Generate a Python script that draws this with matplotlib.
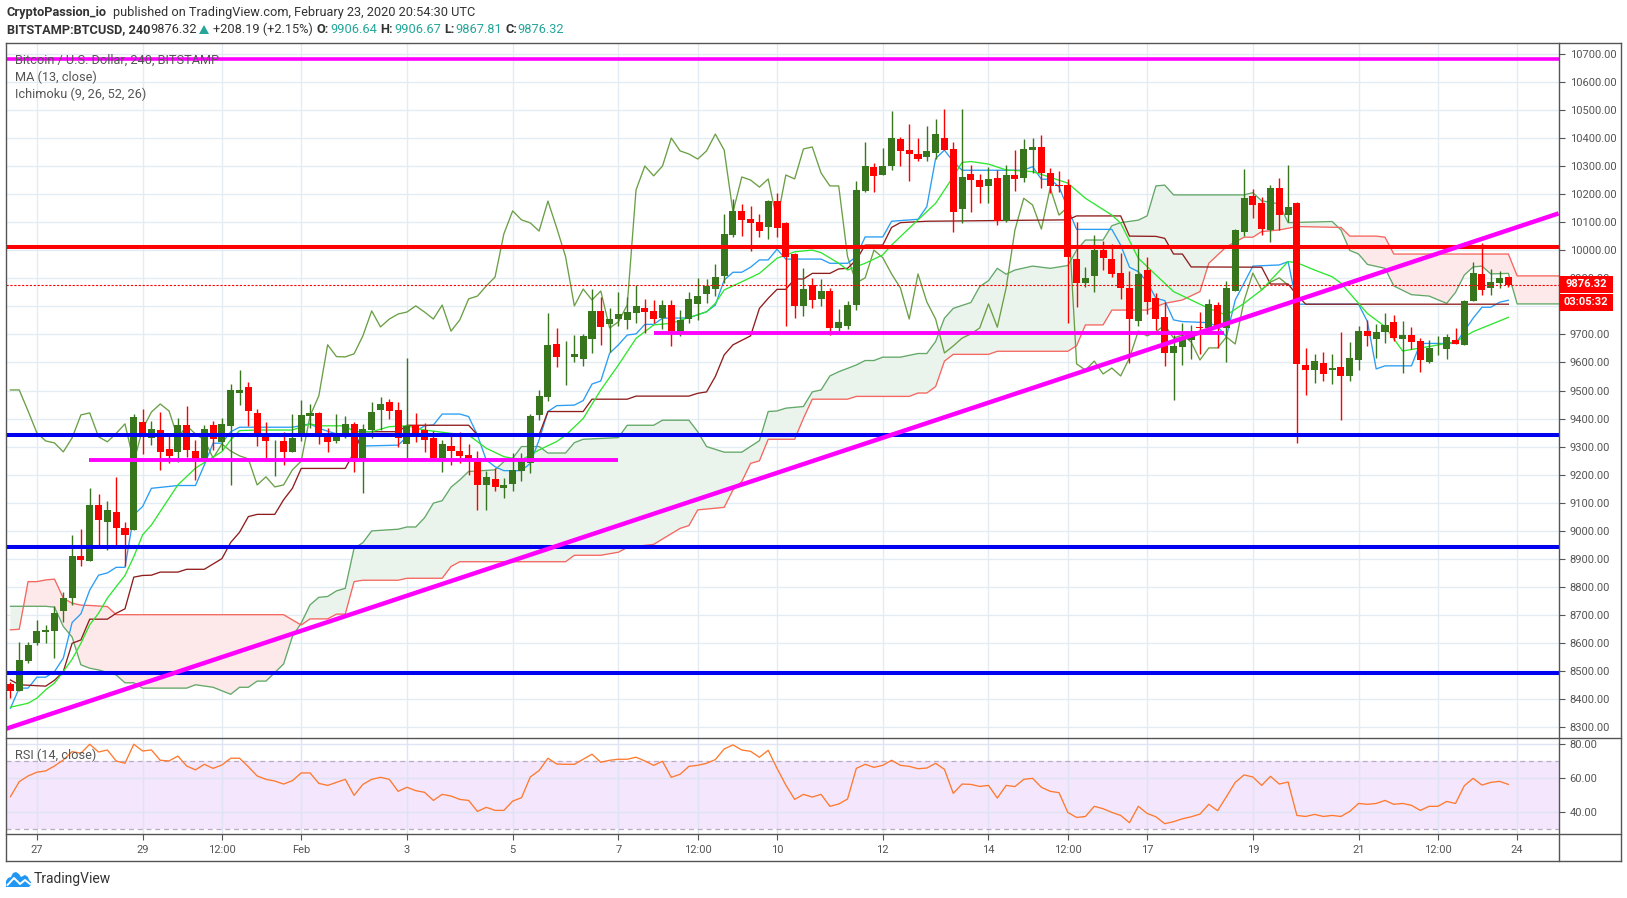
import numpy as np
import matplotlib
matplotlib.use('Agg')
import matplotlib.pyplot as plt
from matplotlib.lines import Line2D
from matplotlib.patches import Polygon, Rectangle

plt.rcParams['font.family'] = ['Roboto', 'DejaVu Sans']

W, H = 1627, 898

# candles, first bar is Jan 26 12:00, bar 0 is Jan 27 00:00
first_bar = -3
opens = [8453,8426,8534,8598,8638,8642,8714,8760,8910,8892,9092,9032,9067,9010,9003,9388,9331,9359,9292,9281,
         9377,9284,9248,9377,9317,9374,9491,9513,9420,9345,9311,9320,9281,9338,9409,9420,9338,9320,9345,9381,
         9248,9359,9431,9459,9431,9309,9377,9359,9331,9259,9302,9284,9270,9259,9163,9184,9152,9167,9213,9242,
         9413,9477,9666,9618,9620,9613,9684,9784,9737,9755,9752,9777,9795,9784,9759,9805,9709,9755,9809,9844,
         9862,9909,10055,10141,10112,10101,10084,10176,10098,9987,9802,9877,9827,9855,9723,9730,9805,10212,10298,10269,
         10301,10398,10358,10344,10333,10347,10401,10362,10148,10273,10251,10230,10258,10106,10269,10258,10358,10369,10276,10233,
         10233,9969,9884,9909,10001,9969,9918,9866,9748,9930,9830,9762,9634,9655,9680,9727,9723,9805,9723,9855,
         10066,10194,10169,10073,10223,10126,10169,9591,9573,9598,9573,9584,9552,9609,9712,9684,9709,9745,9684,9698,
         9677,9602,9650,9648,9680,9663,9820,9916,9866,9884,9906.64]
highs = [8461,8602,8602,8681,8663,8731,8780,8985,9006,9152,9131,9106,9192,9031,9416,9434,9391,9423,9347,9402,
         9445,9324,9376,9391,9402,9523,9573,9531,9434,9388,9324,9352,9416,9466,9452,9423,9366,9416,9409,9388,
         9381,9459,9477,9470,9459,9616,9420,9383,9356,9324,9345,9352,9309,9284,9213,9224,9188,9277,9277,9416,
         9502,9775,9723,9675,9698,9702,9862,9834,9794,9852,9835,9877,9827,9823,9823,9823,9787,9852,9902,9898,
         9952,10130,10183,10166,10158,10130,10180,10205,10101,9990,9937,9902,9898,9866,9791,9820,10248,10387,10312,10365,
         10497,10405,10451,10401,10444,10469,10504,10387,10504,10305,10273,10298,10287,10305,10358,10397,10401,10412,10294,10283,
         10255,10101,9941,10055,10034,10023,9990,9926,10019,9975,9847,9817,9698,9740,9734,9780,9827,9816,9891,10076,
         10290,10219,10190,10233,10258,10305,10173,9652,9630,9637,9630,9709,9673,9730,9752,9737,9777,9770,9748,9727,
         9687,9680,9695,9702,9723,9823,9959,10026,9934,9927,9906.67]
lows = [8402,8426,8529,8592,8600,8547,8675,8733,8872,8892,8937,8931,8937,8872,9003,9274,9306,9217,9240,9245,
        9263,9181,9248,9288,9286,9163,9449,9374,9302,9249,9195,9234,9281,9320,9366,9309,9281,9313,9331,9210,
        9136,9331,9359,9399,9300,9249,9317,9281,9256,9210,9234,9242,9199,9074,9074,9142,9117,9142,9177,9206,
        9395,9463,9585,9521,9600,9588,9634,9663,9638,9730,9720,9741,9705,9741,9720,9659,9695,9740,9752,9811,
        9837,9884,10048,10051,9998,10048,10041,10048,9730,9759,9766,9795,9802,9698,9711,9718,9787,10208,10208,10269,
        10287,10301,10248,10319,10319,10326,10358,10066,10098,10137,10169,10169,10091,10101,10212,10244,10275,10223,10204,10208,
        9740,9798,9871,9852,9930,9906,9827,9597,9730,9773,9716,9588,9466,9591,9613,9630,9716,9651,9602,9855,
        10051,10116,10055,10030,10073,10102,9312,9484,9527,9534,9523,9395,9534,9573,9659,9616,9670,9677,9563,9648,
        9566,9598,9627,9613,9666,9663,9820,9841,9841,9866,9867.81]
closes = [8426,8539,8592,8642,8645,8706,8760,8910,8895,9092,9038,9074,9010,8985,9406,9341,9363,9281,9267,9377,
          9288,9252,9363,9327,9381,9502,9502,9427,9349,9320,9313,9281,9331,9413,9420,9335,9317,9347,9381,9245,
          9363,9423,9452,9427,9331,9374,9345,9324,9259,9309,9284,9267,9256,9163,9192,9156,9163,9217,9248,9409,
          9481,9663,9621,9620,9631,9695,9784,9727,9755,9773,9780,9802,9780,9755,9805,9712,9752,9827,9837,9873,
          9905,10059,10141,10109,10098,10069,10176,10080,9978,9802,9862,9823,9855,9723,9745,9805,10216,10301,10266,10301,
          10401,10355,10344,10326,10355,10415,10358,10137,10262,10251,10226,10255,10106,10269,10255,10362,10369,10276,10230,10230,
          9978,9884,9902,10001,9974,9916,9866,9755,9916,9816,9755,9634,9659,9687,9702,9723,9809,9726,9866,10073,
          10186,10162,10076,10223,10126,10155,9595,9573,9605,9559,9580,9552,9616,9712,9695,9709,9734,9687,9698,9673,
          9609,9652,9652,9691,9666,9820,9919,9859,9887,9902,9876.32]

# ichimoku and MA lines, read at their corners: bar number and price
span_b_bars = [-3,-2,-1,0,1,2,3,4,5,6,7,8,9,28,30,31,33,34,35,36,37,41,42,46,47,48,60,61,64,66,67,70,71,73,74,75,78,79,80,81,82,83,86,87,88,92,93,99,100,101,102,103,104,108,109,117,118,119,121,122,126,128,130,132,133,135,137,138,139,141,143,148,149,152,153,154,167,168,173]
span_b_vals = [8646,8648,8818,8818,8824,8827,8759,8741,8734,8733,8731,8729,8700,8700,8663,8685,8685,8702,8702,8818,8823,8823,8830,8830,8872,8889,8889,8912,8912,8923,8940,8951,8970,9008,9018,9074,9083,9145,9175,9240,9249,9326,9326,9401,9469,9469,9479,9479,9491,9491,9514,9605,9629,9629,9640,9640,9660,9734,9734,9787,9787,9811,9823,9853,9954,10013,10047,10047,10067,10073,10085,10082,10051,10051,10047,9987,9987,9909,9909]
span_a_bars = [-3,1,2,3,4,5,6,7,9,10,11,12,17,18,20,22,23,24,25,26,28,29,30,31,32,33,34,35,36,37,38,41,42,43,44,45,46,47,48,49,52,53,54,55,57,58,60,61,62,66,67,70,71,74,75,76,78,80,82,83,84,85,87,88,89,90,91,93,94,95,96,98,100,101,102,103,104,106,107,108,109,110,111,113,115,117,118,119,121,122,123,125,126,127,128,129,137,138,139,141,142,147,148,149,150,151,153,154,156,158,160,161,162,163,164,165,167,168,173]
span_a_vals = [8730,8730,8727,8658,8620,8521,8509,8503,8485,8457,8457,8438,8438,8450,8441,8416,8441,8441,8463,8463,8524,8622,8670,8735,8762,8765,8785,8794,8937,8957,8999,9005,9013,9013,9046,9098,9107,9155,9181,9211,9217,9246,9258,9300,9300,9277,9277,9314,9326,9332,9376,9376,9394,9394,9353,9300,9280,9280,9321,9425,9427,9437,9443,9495,9502,9552,9567,9591,9607,9607,9619,9619,9632,9632,9675,9758,9793,9814,9871,9892,9936,9915,9930,9944,9936,9946,10001,10037,10037,10088,10099,10108,10123,10230,10233,10198,10198,10206,10177,10166,10099,10103,10073,10000,9987,9950,9936,9873,9842,9837,9811,9850,9912,9941,9944,9916,9918,9809,9809]
kijun_bars = [-3,-2,1,2,3,4,5,6,8,9,10,11,12,13,14,16,17,19,21,22,23,24,25,27,28,29,30,35,36,37,41,42,49,50,57,58,62,63,67,68,74,75,76,77,78,79,81,82,83,84,85,86,87,88,90,91,92,93,94,96,97,98,101,117,118,123,124,127,128,129,130,131,139,140,142,143,144,167]
kijun_vals = [8467,8450,8445,8466,8497,8598,8610,8684,8684,8705,8721,8834,8840,8841,8852,8852,8862,8862,8900,8958,8994,9050,9058,9058,9110,9151,9222,9222,9280,9353,9353,9376,9376,9342,9342,9425,9425,9469,9469,9480,9480,9490,9495,9550,9627,9663,9695,9793,9829,9861,9861,9898,9898,9918,9918,9934,9936,9966,10019,10019,10082,10099,10104,10109,10123,10123,10051,10050,10043,9987,9987,9941,9940,9880,9880,9841,9808,9808]
tenkan_bars = [-3,-2,-1,0,1,2,3,4,5,6,7,8,9,10,11,12,13,16,18,19,20,21,22,23,29,31,32,35,36,37,41,42,44,45,46,48,49,50,51,52,53,55,56,57,58,59,61,62,63,64,65,66,67,68,69,70,71,74,76,77,78,79,80,81,82,83,84,85,89,90,92,93,94,96,97,100,101,102,103,104,105,112,113,114,115,116,117,118,122,123,124,125,126,127,128,129,130,133,134,135,136,137,138,141,142,143,150,151,152,153,156,157,158,161,162,163,164,165,166,167]
tenkan_vals = [8366,8438,8438,8477,8477,8497,8545,8672,8703,8788,8841,8849,8869,8869,9056,9086,9151,9161,9161,9234,9312,9312,9353,9369,9369,9381,9365,9335,9341,9302,9305,9335,9374,9377,9416,9416,9407,9341,9252,9228,9214,9214,9240,9324,9425,9446,9448,9464,9523,9534,9633,9663,9698,9702,9736,9736,9758,9759,9781,9805,9894,9922,9922,9940,9966,9966,10004,9969,9969,9954,9954,9978,10048,10048,10104,10111,10156,10328,10358,10317,10286,10286,10299,10254,10254,10227,10150,10075,10075,10019,9940,9924,9888,9829,9821,9752,9746,9742,9728,9692,9823,9883,9944,9948,9960,9808,9808,9746,9577,9588,9588,9668,9668,9668,9712,9758,9797,9797,9815,9822]
ma_bars = [-3,-1,0,1,2,3,4,5,6,7,8,9,10,11,12,13,14,16,18,21,22,23,25,29,31,32,35,36,38,40,42,44,47,49,51,53,55,57,59,60,62,64,66,68,70,72,76,77,78,80,82,84,86,88,89,91,92,94,96,97,100,102,104,105,106,108,110,113,115,117,119,122,123,125,129,133,135,137,139,142,143,145,147,148,150,151,153,155,158,161,163,167]
ma_vals = [8370,8384,8402,8432,8456,8497,8541,8598,8664,8705,8759,8800,8840,8907,8985,9020,9068,9163,9223,9282,9324,9357,9359,9359,9381,9374,9374,9353,9353,9371,9374,9359,9347,9341,9294,9264,9252,9288,9318,9340,9400,9502,9591,9686,9734,9740,9781,9811,9859,9888,9918,9972,9995,10001,9992,9954,9930,9954,9984,10019,10109,10168,10263,10314,10317,10308,10287,10281,10261,10240,10186,10126,10097,9972,9853,9793,9769,9811,9859,9960,9956,9930,9906,9883,9811,9775,9728,9641,9657,9674,9710,9761]

# hand drawn levels
magenta_top = 10682
red_level = 10013
blue_levels = [9342, 8943, 8493]
seg1_bars, seg1_price = [5.9, 66], 9252
seg2_bars, seg2_price = [70, 134.7], 9706
trend_bars, trend_prices = [-3.48, 172.7], [8293, 10132]
last_price = 9876.32

rsi_vals = [48.9,57.8,61.2,63.4,64.2,67.1,70.7,75.6,74.7,80,75.4,76.6,70.1,68.7,80,76,76.6,70.5,70.1,73,67.1,64.8,68.1,65.7,67.7,71.7,71.7,66.7,61.2,59.2,
            58.2,56.4,58.4,63,63,56.8,55.6,57.4,59.2,49.7,56.2,59.2,60.4,59.2,52.1,54.5,52.5,51.5,46.7,50.3,49.3,47.3,46.7,40.2,42.6,40.8,40.8,46.3,48.3,60.6,
            64.4,71.7,68.3,68.1,68.1,71.1,74.1,69.3,70.5,71.1,71.1,72.3,70.1,67.5,69.9,60.4,62.2,66.9,67.5,68.7,70.9,77.2,79.6,76.6,75.8,72.3,76.4,65.7,55.8,47.3,
            50.3,48.7,50.3,43.2,44.6,47.5,65.7,68.1,66.3,67.5,70.5,67.5,66.9,65.5,65.9,68.7,65.1,50.9,56.4,56.2,55,55.6,48.1,55.6,54.9,59.2,59.8,54.5,52.1,51.3,
            39.6,36.6,37.2,43.2,41.8,39.6,37.8,33.5,43.2,39,37,32.9,34.1,35.8,37,38.6,44.4,40.6,48.9,57.4,61.8,60.6,55.6,61,56.4,57.6,37.8,37.2,38.4,37.2,
            37.8,37.2,40.2,44.9,44.4,44.9,46.7,44.4,44.9,43.8,40.8,43.2,43.2,46.1,44.9,55.4,59.8,55.8,57.4,58,56.2]

time_ticks = [0, 12, 21, 30, 42, 54, 66, 75, 84, 96, 108, 117, 126, 138, 150, 159, 168]
time_labels = ['27', '29', '12:00', 'Feb', '3', '5', '7', '12:00', '10', '12', '14', '12:00', '17', '19', '21', '12:00', '24']
price_ticks = list(range(8300, 10800, 100))
rsi_ticks = [40, 60, 80]

GREEN = '#38761d'
RED = '#ff0000'
GRID = '#e3ecf2'
FRAME = '#555555'
TEXT = '#555555'


def fx(px):
    return px / W


def fy(py):
    return 1 - py / H


def put_text(px, py, s, **kw):
    kw.setdefault('fontsize', 9.2)
    kw.setdefault('color', '#333333')
    kw.setdefault('va', 'center')
    fig.text(fx(px), fy(py), s, **kw)


fig = plt.figure(figsize=(W / 100, H / 100), dpi=100, facecolor='white')
left, right = 6.2, 1558.6
ax = fig.add_axes([fx(left), fy(738), fx(right - left), (738 - 43.3) / H])
ax2 = fig.add_axes([fx(left), fy(834), fx(right - left), (834 - 738) / H])

bars = np.arange(first_bar, first_bar + len(closes))
opens_a, highs_a, lows_a, closes_a = map(np.array, (opens, highs, lows, closes))
up = closes_a >= opens_a
colors = [GREEN if u else RED for u in up]

# cloud
grid_x = np.arange(first_bar, 174)
a = np.interp(grid_x, span_a_bars, span_a_vals)
b = np.interp(grid_x, span_b_bars, span_b_vals)
ax.fill_between(grid_x, a, b, where=a >= b, interpolate=True, color='#ebf4ec', lw=0, zorder=1)
ax.fill_between(grid_x, a, b, where=a <= b, interpolate=True, color='#fde9e9', lw=0, zorder=1)
ax.plot(span_a_bars, span_a_vals, color='#62a868', lw=0.95, zorder=2)
ax.plot(span_b_bars, span_b_vals, color='#f4665f', lw=0.95, zorder=2)

# lagging line is the close moved back 25 bars
ax.plot(bars[:-25], closes[25:], color='#6a9f45', lw=0.95, zorder=2)
ax.plot(tenkan_bars, tenkan_vals, color='#2a9df4', lw=0.95, zorder=2)
ax.plot(kijun_bars, kijun_vals, color='#8f1d1d', lw=0.95, zorder=2)
ax.plot(ma_bars, ma_vals, color='#2fe62f', lw=0.95, zorder=2)

# candles
ax.vlines(bars, lows, highs, colors=colors, lw=1.0, zorder=3)
ax.bar(bars, np.maximum(np.abs(closes_a - opens_a), 3), bottom=np.minimum(opens_a, closes_a),
       width=0.8, color=colors, lw=0, zorder=3)

# levels
ax.axhline(last_price, color=RED, lw=0.8, ls=(0, (2, 1.5)), zorder=4)
ax.axhline(magenta_top, color='#ff00ff', lw=2.6, zorder=5)
ax.axhline(red_level, color=RED, lw=2.9, zorder=5)
for level in blue_levels:
    ax.axhline(level, color='#0000f0', lw=2.9, zorder=5)
ax.plot(seg1_bars, [seg1_price, seg1_price], color='#ff00ff', lw=2.8, solid_capstyle='butt', zorder=5)
ax.plot(seg2_bars, [seg2_price, seg2_price], color='#ff00ff', lw=2.8, solid_capstyle='butt', zorder=5)
ax.plot(trend_bars, trend_prices, color='#ff00ff', lw=3.2, solid_capstyle='butt', zorder=5)

ax.set_xlim(-3.48, 172.7)
ax.set_ylim(8260, 10739)
ax.set_yticks(price_ticks)
ax.set_yticklabels(['%.2f' % p for p in price_ticks])
ax.set_xticks(time_ticks)
ax.tick_params(axis='x', length=0, labelbottom=False)
ax.yaxis.tick_right()
ax.tick_params(axis='y', length=4, width=0.8, color=FRAME, labelsize=8, labelcolor=TEXT, pad=4)
ax.grid(True, color=GRID, lw=1.0)
ax.set_axisbelow(True)
for side in ax.spines:
    ax.spines[side].set_visible(False)

# rsi panel
ax2.axhspan(30, 70, color='#f4e6fd', lw=0, zorder=0)
ax2.axhline(70, color='#b9adc4', lw=0.9, ls=(0, (4, 3)), zorder=2)
ax2.axhline(30, color='#b9adc4', lw=0.9, ls=(0, (4, 3)), zorder=2)
ax2.plot(bars, rsi_vals, color='#ff7a2e', lw=0.95, zorder=3)
ax2.set_xlim(-3.48, 172.7)
ax2.set_ylim(26.8, 83.7)
ax2.set_yticks(rsi_ticks)
ax2.set_yticklabels(['%.2f' % r for r in rsi_ticks])
ax2.set_xticks(time_ticks)
ax2.set_xticklabels(time_labels)
ax2.yaxis.tick_right()
ax2.tick_params(axis='y', length=4, width=0.8, color=FRAME, labelsize=8, labelcolor=TEXT, pad=4)
ax2.tick_params(axis='x', length=4, width=0.8, color=FRAME, labelsize=8, labelcolor=TEXT, pad=4)
ax2.grid(True, color='#dfe3f2', lw=1.0, zorder=1)
ax2.set_axisbelow(True)
for side in ax2.spines:
    ax2.spines[side].set_visible(False)

# frame around the panels
for x0, y0, x1, y1 in [(left, 43.3, 1621, 43.3), (left, 738, 1621, 738), (left, 834, 1621, 834),
                       (left, 861, 1621, 861), (left, 43.3, left, 861), (right, 43.3, right, 861),
                       (1621, 43.3, 1621, 861)]:
    fig.add_artist(Line2D([fx(x0), fx(x1)], [fy(y0), fy(y1)], color=FRAME, lw=1.0, zorder=10))

# price labels on the axis
for y0, y1, s in [(276, 292.7, '9876.32'), (293.7, 310.7, '03:05:32')]:
    fig.add_artist(Rectangle((fx(right), fy(y1)), fx(1613 - right), (y1 - y0) / H, color=RED, lw=0, zorder=11))
    fig.text(fx(1586), fy((y0 + y1) / 2), s, color='white', fontsize=8, fontweight='bold',
             ha='center', va='center', zorder=12)

# header
put_text(6.5, 12.3, 'CryptoPassion_io', fontweight='bold')
put_text(112.5, 12.3, 'published on TradingView.com, February 23, 2020 20:54:30 UTC')
put_text(6.5, 29.3, 'BITSTAMP:BTCUSD, 240', fontweight='bold')
put_text(150, 29.3, '9876.32')
fig.add_artist(Polygon([(fx(199), fy(34)), (fx(209), fy(34)), (fx(204), fy(25))], color='#26a69a', lw=0))
put_text(213, 29.3, '+208.19 (+2.15%)')
for px, s, vx, v in [(316.4, 'O:', 330, '9906.64'), (380, 'H:', 394, '9906.67'),
                     (444.6, 'L:', 455, '9867.81'), (505, 'C:', 517, '9876.32')]:
    put_text(px, 29.3, s, fontweight='bold')
    put_text(vx, 29.3, v, color='#26a69a')

# legend text in the panels
put_text(15.4, 60.5, 'Bitcoin / U.S. Dollar, 240, BITSTAMP', color=TEXT, zorder=12)
put_text(15.4, 77.5, 'MA (13, close)', color=TEXT, zorder=12)
put_text(15.4, 94.5, 'Ichimoku (9, 26, 52, 26)', color=TEXT, zorder=12)
put_text(15.4, 755.7, 'RSI (14, close)', color=TEXT, zorder=12)

# tradingview logo
cloud = [(6, 887), (6, 881), (8, 878), (11, 877), (13, 873), (16, 872), (19, 874), (21, 877), (25, 875),
         (28, 877), (29, 880), (31, 882), (31, 885), (29, 887)]
zig = [(7.5, 885), (14, 878), (20, 884), (25, 880), (30, 884)]
fig.add_artist(Polygon([(fx(x), fy(y)) for x, y in cloud], color='#2196f3', lw=0))
fig.add_artist(Line2D([fx(x) for x, y in zig], [fy(y) for x, y in zig], color='white', lw=1.4))
put_text(33.5, 879, 'TradingView', fontsize=10, color='#333333')

fig.savefig('out.png', dpi=100)
